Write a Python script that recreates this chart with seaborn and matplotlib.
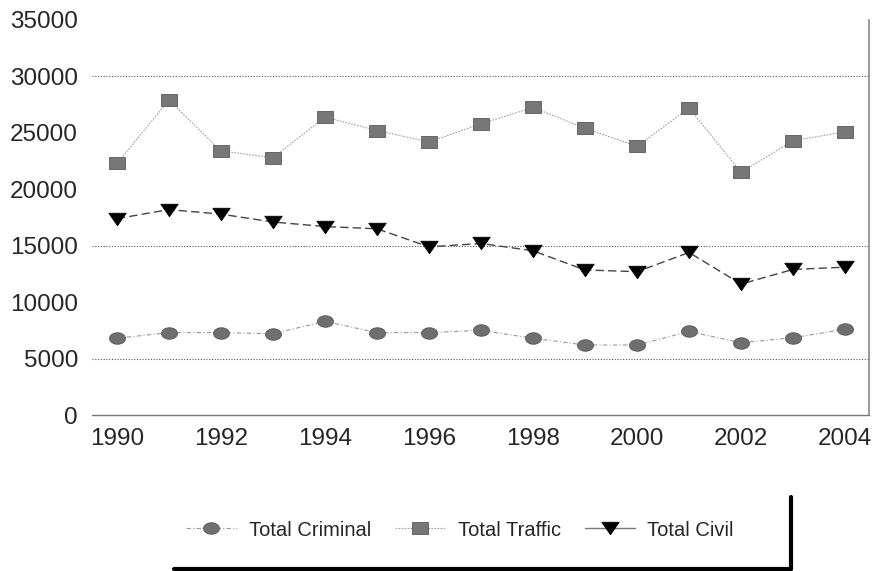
import numpy as np
import pandas as pd
import matplotlib
matplotlib.use("Agg")
import matplotlib.pyplot as plt
from matplotlib.lines import Line2D
from matplotlib.ticker import MultipleLocator
import seaborn as sns

years = list(range(1990, 2005))
criminal = [6800, 7300, 7300, 7200, 8300, 7300, 7300, 7500, 6800, 6200, 6200, 7400, 6400, 6850, 7600]
traffic = [22300, 27900, 23400, 22800, 26400, 25200, 24200, 25800, 27250, 25400, 23800, 27200, 21500, 24300, 25100]
civil = [17400, 18200, 17800, 17100, 16700, 16500, 14900, 15200, 14550, 12850, 12700, 14400, 11600, 12900, 13100]
series_names = ["Total Criminal", "Total Traffic", "Total Civil"]
grid_levels = [5000, 15000, 30000]

df = pd.DataFrame({"Year": years, "Total Criminal": criminal,
                   "Total Traffic": traffic, "Total Civil": civil})

sns.set_style("white")
plt.rcParams["font.family"] = ["Liberation Sans", "DejaVu Sans"]

# custom marker shapes (ellipse, flat square, wide triangle)
t = np.linspace(0, 2 * np.pi, 40)
ellipse = list(zip(np.cos(t), 0.72 * np.sin(t)))
rect = [(-1, -0.75), (1, -0.75), (1, 0.75), (-1, 0.75), (-1, -0.75)]
tri = [(-1, 0.72), (1, 0.72), (0, -0.72), (-1, 0.72)]

fig = plt.figure(figsize=(8.75, 5.71), dpi=100)
ax = fig.add_axes([92 / 875, 1 - 415 / 571, (869 - 92) / 875, (415 - 20) / 571])

for lvl in grid_levels:
    ax.axhline(lvl, color="#555555", ls=(0, (1, 1.5)), lw=0.8, zorder=0)

styles = {
    "Total Criminal": dict(marker=ellipse, color="#9a9a9a", ls=(0, (4, 2, 1, 2)), lw=0.8,
                           mfc="#6f6f6f", mec="#555555", ms=11.5),
    "Total Traffic": dict(marker=rect, color="#a0a0a0", ls=(0, (1.5, 1.2)), lw=0.8,
                          mfc="#777777", mec="#5a5a5a", ms=11.5),
    "Total Civil": dict(marker=tri, color="#444444", ls=(0, (6, 3)), lw=1.0,
                        mfc="black", mec="black", ms=12.5),
}

for name in series_names:
    st = styles[name]
    sns.lineplot(data=df, x="Year", y=name, ax=ax, label=name,
                 marker=st["marker"], color=st["color"], linestyle=st["ls"],
                 linewidth=st["lw"], markerfacecolor=st["mfc"],
                 markeredgecolor=st["mec"], markersize=st["ms"], markeredgewidth=0.6)

ax.set_xlim(1989.52, 2004.46)
ax.set_ylim(0, 35000)
ax.xaxis.set_minor_locator(MultipleLocator(1))
ax.yaxis.set_major_locator(MultipleLocator(5000))
ax.yaxis.set_minor_locator(MultipleLocator(2500))
ax.set_xticks(range(1990, 2005, 2))
ax.set_xticklabels([str(y) for y in range(1990, 2005, 2)])

ax.tick_params(axis="x", which="both", direction="out", length=7, width=0.6,
               color="#999999", labelsize=17.5, pad=2.5)
ax.tick_params(axis="y", which="major", length=0, labelsize=17.5, pad=10)
ax.tick_params(axis="y", which="minor", direction="in", length=10, width=0.6, color="#bbbbbb")

for s in ["top", "left"]:
    ax.spines[s].set_visible(False)
ax.spines["bottom"].set_color("#777777")
ax.spines["bottom"].set_linewidth(1.0)
ax.spines["right"].set_color("#888888")
ax.spines["right"].set_linewidth(1.2)

ax.set_xlabel("")
ax.set_ylabel("")

leg = ax.legend(loc="center", bbox_to_anchor=(460 / 875, 1 - 530 / 571),
                bbox_transform=fig.transFigure, ncol=3, frameon=False, fontsize=14.5,
                handlelength=2.5, handletextpad=0.6, columnspacing=1.2)
# legend key for civil is drawn solid in the original
leg.get_lines()[2].set_linestyle("-")
leg.get_lines()[2].set_color("#777777")

# shadow-style legend border (bottom and right edges only)
fig.add_artist(Line2D([174 / 875, 791 / 875], [1 - 569 / 571] * 2,
                      transform=fig.transFigure, color="black", lw=3))
fig.add_artist(Line2D([791 / 875] * 2, [1 - 497 / 571, 1 - 569 / 571],
                      transform=fig.transFigure, color="black", lw=3))

fig.savefig("out.png", dpi=100)
